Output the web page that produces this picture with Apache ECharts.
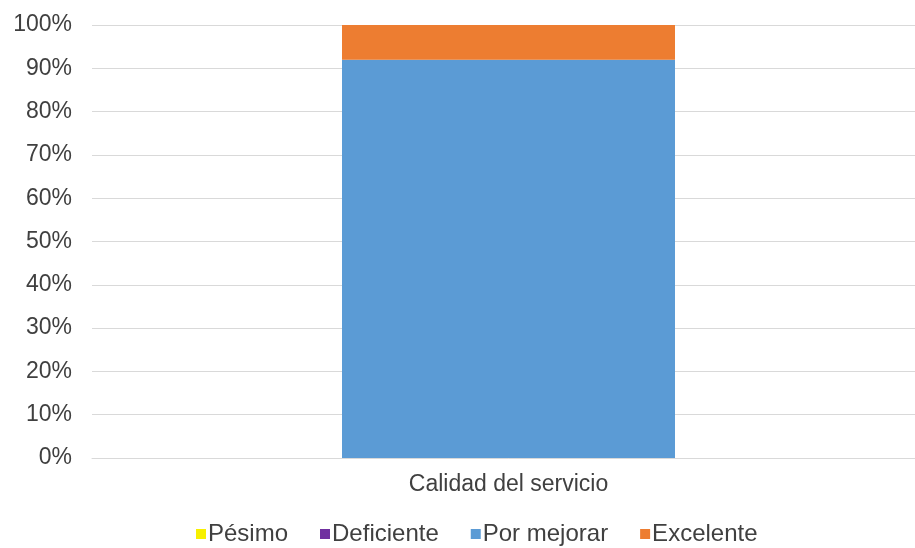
<!DOCTYPE html>
<html><head><meta charset="utf-8">
<script src="https://cdn.jsdelivr.net/npm/echarts@6/dist/echarts.min.js"></script>
<style>html,body{margin:0;padding:0;background:#fff;overflow:hidden}#c{width:925px;height:548px}</style>
</head><body><div id="c"></div>
<script>
const categories = ['Calidad del servicio'];
const seriesNames = ['Pésimo', 'Deficiente', 'Por mejorar', 'Excelente'];
const pesimo = [0];
const deficiente = [0];
const porMejorar = [92];
const excelente = [8];
const yTicks = [0, 10, 20, 30, 40, 50, 60, 70, 80, 90, 100];
const colors = ['#F7F000', '#7030A0', '#5B9BD5', '#ED7D31'];
const values = [pesimo, deficiente, porMejorar, excelente];

const chart = echarts.init(document.getElementById('c'));
const font = 'Liberation Sans, Arial, sans-serif';
chart.setOption({
  animation: false,
  grid: { left: 92, top: 25, right: 0, bottom: 90, containLabel: false },
  xAxis: {
    type: 'category', data: categories,
    axisLine: { lineStyle: { color: '#d9d9d9' } },
    axisTick: { show: false },
    axisLabel: { color: '#404040', fontSize: 23, fontFamily: font, margin: 15 }
  },
  yAxis: {
    type: 'value', min: yTicks[0], max: yTicks[yTicks.length - 1], interval: 10,
    axisLine: { show: false }, axisTick: { show: false },
    splitLine: { lineStyle: { color: '#d9d9d9' } },
    axisLabel: { color: '#404040', fontSize: 23, fontFamily: font, margin: 20, padding: [4, 0, 0, 0], formatter: v => v + '%' }
  },
  legend: {
    top: 522, left: 196, padding: 0,
    data: seriesNames,
    itemWidth: 10, itemHeight: 10, itemGap: 32, icon: 'rect',
    textStyle: { color: '#404040', fontSize: 24, fontFamily: font, padding: [0, 0, 0, -3] }
  },
  series: seriesNames.map((n, i) => ({
    name: n, type: 'bar', stack: 'total', data: values[i], barWidth: 333,
    itemStyle: { color: colors[i] }
  }))
});
</script></body></html>
